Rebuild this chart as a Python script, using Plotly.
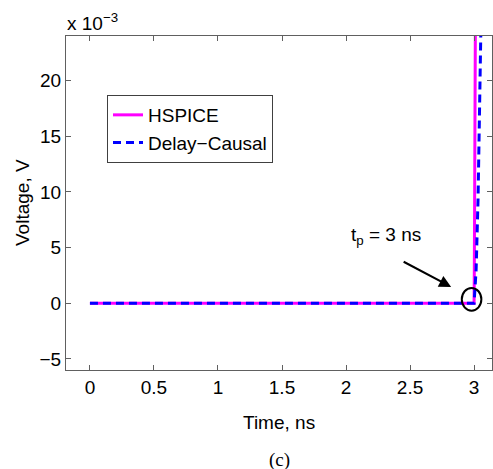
import plotly.graph_objects as go

# Data (time in ns, voltage in V)
hspice_t = [0.0, 3.0, 3.002, 3.010]
hspice_v = [0.0, 0.0, 0.003, 0.0245]
causal_t = [0.0, 3.0, 3.016, 3.031, 3.053]
causal_v = [0.0, 0.0, 0.003, 0.0093, 0.0245]

x_ticks = [0, 0.5, 1, 1.5, 2, 2.5, 3]
x_ticklabels = ["0", "0.5", "1", "1.5", "2", "2.5", "3"]
y_ticks = [-0.005, 0.0, 0.005, 0.010, 0.015, 0.020]
y_ticklabels = ["\u22125", "0", "5", "10", "15", "20"]

W, H = 493, 469
ML, MR, MT, MB = 66, 1, 36, 99
FONT = "Liberation Sans, Arial, sans-serif"
FS = 19

fig = go.Figure()
fig.add_trace(go.Scatter(x=hspice_t, y=hspice_v, mode="lines", name="HSPICE",
                         line=dict(color="#ff00ff", width=3)))
fig.add_trace(go.Scatter(x=causal_t, y=causal_v, mode="lines", name="Delay\u2212Causal",
                         line=dict(color="#0000ff", width=3, dash="8px,5px")))

axis_common = dict(showline=True, linecolor="#606060", linewidth=1, mirror="ticks",
                   ticks="inside", ticklen=5, tickcolor="#606060", showgrid=False,
                   zeroline=False, tickfont=dict(family=FONT, size=FS, color="black"))

fig.update_xaxes(range=[-0.187, 3.14], tickvals=x_ticks, ticktext=x_ticklabels, **axis_common)
fig.update_yaxes(range=[-0.006, 0.024], tickvals=y_ticks, ticktext=y_ticklabels, **axis_common)

pw = W - ML - MR
ph = H - MT - MB

def px_x(p):
    return (p - ML) / pw

def px_y(p):
    return (H - MB - p) / ph

annotations = [
    dict(text="Voltage, V", xref="paper", yref="paper", x=px_x(22), y=0.5,
         textangle=-90, showarrow=False, xanchor="center", yanchor="middle",
         font=dict(family=FONT, size=FS, color="black")),
    dict(text="Time, ns", xref="paper", yref="paper", x=0.5, y=px_y(422),
         showarrow=False, xanchor="center", yanchor="middle",
         font=dict(family=FONT, size=FS, color="black")),
    dict(text="(c)", xref="paper", yref="paper", x=0.5, y=px_y(460),
         showarrow=False, xanchor="center", yanchor="middle",
         font=dict(family="Liberation Serif, Times New Roman, serif", size=FS, color="black")),
    dict(text="x 10<sup>\u22123</sup>", xref="paper", yref="paper", x=px_x(65), y=px_y(22),
         showarrow=False, xanchor="left", yanchor="middle",
         font=dict(family=FONT, size=FS, color="black")),
    dict(text="t<sub>p</sub> = 3 ns", xref="x", yref="y", x=2.026, y=0.0060,
         showarrow=False, xanchor="left", yanchor="middle",
         font=dict(family=FONT, size=FS, color="black")),
    dict(text="", xref="x", yref="y", x=2.821, y=0.00146, ax=-49, ay=-26,
         showarrow=True, arrowhead=2, arrowsize=1.2, arrowwidth=2, arrowcolor="black"),
]

fig.update_layout(
    width=W, height=H,
    margin=dict(l=ML, r=MR, t=MT, b=MB),
    paper_bgcolor="white", plot_bgcolor="white",
    font=dict(family=FONT, size=FS, color="black"),
    showlegend=True,
    legend=dict(x=px_x(107), y=px_y(95), xanchor="left", yanchor="top",
                bordercolor="#404040", borderwidth=1, bgcolor="white",
                font=dict(family=FONT, size=FS, color="black"),
                tracegroupgap=0, itemwidth=30),
    annotations=annotations,
    shapes=[dict(type="circle", xref="x", yref="y", x0=2.904, x1=3.057,
                 y0=-0.00067, y1=0.00137, line=dict(color="black", width=2))],
)

fig.write_html("out.html")
